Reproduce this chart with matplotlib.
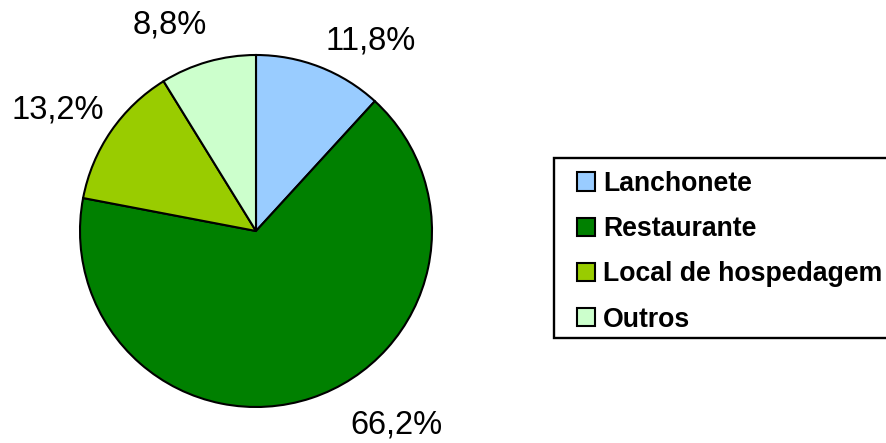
import matplotlib
matplotlib.use("Agg")
import matplotlib.pyplot as plt
from matplotlib.patches import Rectangle
import numpy as np

categories = ["Lanchonete", "Restaurante", "Local de hospedagem", "Outros"]
values = [11.8, 66.2, 13.2, 8.8]
labels = ["11,8%", "66,2%", "13,2%", "8,8%"]
colors = ["#99CCFF", "#008000", "#99CC00", "#CCFFCC"]

plt.rcParams['font.family'] = ['Liberation Sans', 'DejaVu Sans']

W, H = 887, 443
fig = plt.figure(figsize=(W / 100, H / 100), dpi=100)
cx, cy, r = 256, 231, 176
ax = fig.add_axes([(cx - r) / W, (H - cy - r) / H, 2 * r / W, 2 * r / H])
wedges, _ = ax.pie(values, colors=colors, startangle=90, counterclock=False,
                   wedgeprops=dict(edgecolor="black", linewidth=1.5))
ax.set_xlim(-1, 1)
ax.set_ylim(-1, 1)
ax.set_aspect("equal")
ax.axis("off")

# label positions (radius, angle in degrees)
label_pos = [(1.26, 59), (1.36, -54), (1.32, 148.6), (1.27, 112.7)]
for lab, (rr, ang) in zip(labels, label_pos):
    a = np.deg2rad(ang)
    ax.text(rr * np.cos(a), rr * np.sin(a), lab, ha="center", va="center",
            fontsize=23.5, clip_on=False)

# legend frame drawn separately (extends past right edge like the reference)
fig.patches.append(Rectangle((554 / W, 1 - 338 / H), 400 / W, 180 / H,
                             transform=fig.transFigure, facecolor="white",
                             edgecolor="black", linewidth=1.7, zorder=0))

leg = fig.legend(wedges, categories, loc="upper left",
                 bbox_to_anchor=(577 / W, 1 - 171 / H),
                 prop=dict(weight="bold", size=19.2),
                 handlelength=0.68, handleheight=0.68, handletextpad=0.3,
                 labelspacing=0.72, borderpad=0, borderaxespad=0,
                 frameon=False)
for h in leg.legend_handles:
    h.set_linewidth(1.5)

fig.savefig("out.png", dpi=100)
